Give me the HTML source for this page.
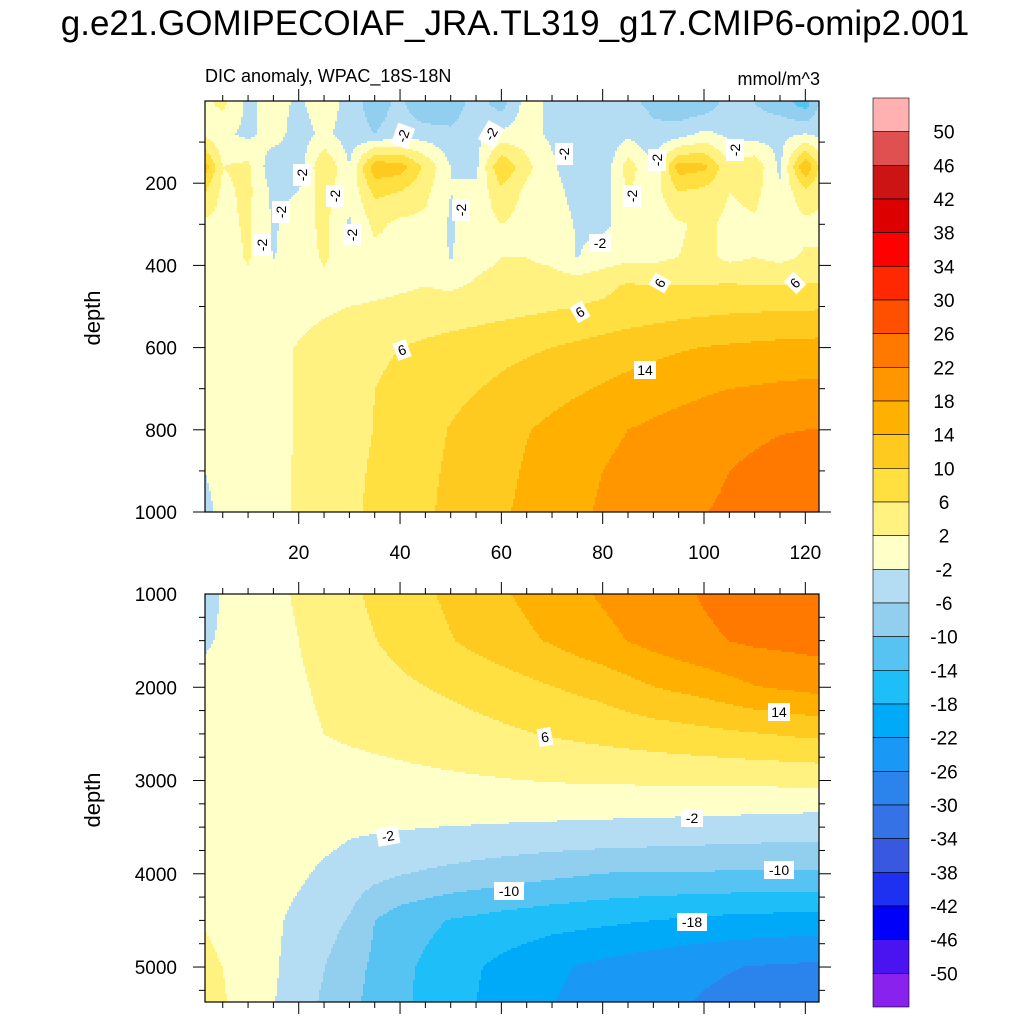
<!DOCTYPE html>
<html><head><meta charset="utf-8">
<style>
body{margin:0;background:#fff;}
svg text{font-family:"Liberation Sans",sans-serif;fill:#000;}
</style></head>
<body>
<svg id="chart" width="1024" height="1024" viewBox="0 0 1024 1024" xmlns="http://www.w3.org/2000/svg">
<rect width="1024" height="1024" fill="#fff"/>
<text x="515" y="35" font-size="35" text-anchor="middle">g.e21.GOMIPECOIAF_JRA.TL319_g17.CMIP6-omip2.001</text>
<text x="205" y="82" font-size="18">DIC anomaly, WPAC_18S-18N</text>
<text x="820" y="85" font-size="18" text-anchor="end">mmol/m^3</text>
<g id="top-fill"></g>
<g id="bot-fill"></g>
<g id="axes"></g>
<g id="cbar"></g>
<text x="0" y="0" font-size="22" text-anchor="middle" transform="translate(100,318) rotate(-90)">depth</text>
<text x="0" y="0" font-size="22" text-anchor="middle" transform="translate(100,800) rotate(-90)">depth</text>
</svg>
<script>
// ---- data ----
const levels = [-50,-46,-42,-38,-34,-30,-26,-22,-18,-14,-10,-6,-2,2,6,10,14,18,22,26,30,34,38,42,46,50];
const levelColors = ['#8a22ee','#4a14f0','#0000fa','#1e30f0','#3858e0','#3472e6','#2a84ec','#1a98f5','#00aaf8','#1ebef8','#56c3f2','#92cfee','#b4dcf2','#ffffc8','#fff280','#ffe040','#ffca20','#ffb000','#ff9600','#ff7800','#ff5000','#ff2800','#ff0000','#dc0000','#cc1414','#e05050','#ffb0b0'];
const topYears = [1.5,5,10,15,20,25,30,35,40,45,50,55,60,65,70,75,80,85,90,95,100,105,110,115,120,122.7];
const topDepths = [5,80,160,220,300,380,450,500,600,700,800,900,1000];
const topD5    = [1,3,-3,0,-3,1,-4,-8,-5,-10,-9,-4,-8,0,-3,-3,-6,-5,-7,-9,-9,-4,-6,-8,-12,-6];
const topD80   = [1,-1,-3,0,-4,-1,-4,-6,-4,-4,-5,-3,-1,0,-3,-4,-5,-3,-5,-4,-1,-3,-4,-3,-2,-3];
const topD160  = [12,2,3,-5,-4,6,-2,13,12,5,-2,-3,10,3,-1,-6,-5,4,-2,12,11,3,5,-3,14,6];
const topD220  = [6,1,3,-3,-2,4,-1,7,6,3,-2,-1,5,1,0,-4,-4,2,0,6,5,2,3,-1,5,3];
const topD300  = [1,1,2.5,-2.5,0,3,-2.5,3,1,1,-2.5,0,2,0.5,1,-2.5,-3,0,-1,1.5,3,1,1.5,0,1,1];
const topD380  = [0,0,2.5,-2.2,0,2.5,0,0.5,1,1,-2.3,1,2,2,1,-2.2,0,1,1,2,3,1,2,1,2.5,2.5];
const topD450  = [0,0,0.5,0,0.5,1,0.5,1,1.5,2,1.5,2.5,3,3.5,4,4.5,5,6.5,6,6.2,6,6.5,6,6,6.5,6.5];
const topD500  = [0,0,0.3,0.6,1,1.5,2,2.4,2.8,3.2,3.6,4,4.5,5,5.5,6,6.6,7.2,7.8,8.3,8.7,9,9.2,9.4,9.5,9.5];
const topD600  = [0,0,0.5,1.2,2.2,3.2,4.2,5.2,6,6.8,7.5,8.2,8.8,9.4,10,10.8,11.6,12.4,13,13.6,14.1,14.5,14.8,15.1,15.3,15.4];
const topD700  = [0,0,0.5,1.2,2.2,3.3,4.6,6,7,8,9,9.8,10.8,11.8,12.7,13.5,14.4,15.2,16,16.7,17.4,18,18.3,18.6,18.8,18.9];
const topD800  = [-1,0,0.3,1,2.3,3.4,4.7,6.1,7.4,8.8,10.2,11.4,12.6,13.8,14.9,16,17.2,18,18.8,19.6,20.3,20.9,21.4,21.8,22,22.1];
const topD900  = [-2,-0.5,0,1,2.4,3.6,5,6.5,7.8,9.3,10.5,11.8,13,14.4,15.6,16.8,18,18.8,19.6,20.4,21.2,22,22.6,23.2,23.8,24];
const topD1000 = [-3,-1,0,1,2.5,3.7,5.2,6.8,8.1,9.5,10.8,12,13.5,14.8,16.1,17.3,18.5,19.3,20.2,21,21.9,22.5,23.2,24,24.7,25];
const topRows = [topD5,topD80,topD160,topD220,topD300,topD380,topD450,topD500,topD600,topD700,topD800,topD900,topD1000];

const botYears = [1.5,5,10,15,20,25,30,35,40,50,60,70,80,90,100,110,122.7];
const botDepths = [1000,1500,2000,2500,3000,3350,3650,4000,4500,5000,5375];
const botD1000 = [-3.5,-1.7,-0.3,1.1,2.5,3.9,5.3,6.7,8.1,10.8,13.5,16.1,18.5,20.5,22.3,23.8,25];
const botD1500 = [-2.5,-1.5,-0.5,0.6,2,3.3,4.6,5.9,7.2,9.8,12.2,14.4,16.9,19.3,21.4,22.7,23.5];
const botD2000 = [-1,0,0.2,0.7,1.6,2.5,3.3,4.2,5.2,6.7,8.1,9.9,11.4,13.9,15.5,17.8,19.2];
const botD2500 = [0,0,0.3,0.8,1.3,2,2.5,2.9,3.3,4.2,5.3,6.3,7.2,8.1,8.9,9.8,10.9];
const botD3000 = [0,0,0,0.1,0.3,0.45,0.6,0.8,1,1.4,1.8,2.2,2.4,2.6,2.8,2.9,3.1];
const botD3350 = [0.2,0.2,0,0,0,-0.1,-0.2,-0.3,-0.4,-0.6,-0.8,-1,-1.2,-1.4,-1.6,-1.8,-2.1];
const botD3650 = [0.5,0.3,0,-0.2,-0.5,-1.2,-2.1,-2.6,-3,-3.6,-4.1,-4.5,-4.8,-5.1,-5.4,-5.7,-6];
const botD4000 = [0.8,0.5,0.2,-0.4,-1.4,-2.7,-3.7,-4.8,-5.8,-7,-8,-9.1,-10.1,-10.3,-10.4,-10.5,-10.6];
const botD4500 = [1.8,1,0,-1.3,-3,-4.4,-6.3,-10,-12,-14.2,-15.5,-16.5,-17.2,-18,-18.8,-19.3,-19.7];
const botD5000 = [2.8,2,0.3,-1.5,-3.7,-5.9,-8.3,-10.8,-13,-16.3,-19,-21.3,-23,-24.3,-25.4,-26.2,-26.8];
const botD5375 = [3,2.3,0.5,-1.8,-4.2,-6.6,-8.9,-11.3,-13.2,-16.6,-19.4,-21.9,-23.6,-25.1,-26.3,-27.4,-28.5];
const botRows = [botD1000,botD1500,botD2000,botD2500,botD3000,botD3350,botD3650,botD4000,botD4500,botD5000,botD5375];

const xTicks = [20,40,60,80,100,120];
const topYTicks = [200,400,600,800,1000];
const botYTicks = [1000,2000,3000,4000,5000];
const cbarLabels = ['50','46','42','38','34','30','26','22','18','14','10','6','2','-2','-6','-10','-14','-18','-22','-26','-30','-34','-38','-42','-46','-50'];

// ---- scales ----
const X0=205, X1=819, YMIN=1.5, YMAX=122.7;
const xS = y => X0 + (y-YMIN)/(YMAX-YMIN)*(X1-X0);
const xInv = p => YMIN + (p-X0)/(X1-X0)*(YMAX-YMIN);
const T0=101, T1=512, B0=594, B1=1002;
const topY = d => T0 + d/1000*(T1-T0);
const topInv = p => (p-T0)/(T1-T0)*1000;
const botY = d => B0 + (d-1000)/4375*(B1-B0);
const botInv = p => 1000 + (p-B0)/(B1-B0)*4375;

const NS="http://www.w3.org/2000/svg";
function mk(tag, attrs, parent){const e=document.createElementNS(NS,tag);for(const k in attrs)e.setAttribute(k,attrs[k]);parent.appendChild(e);return e;}
function idx(arr,v){if(v<=arr[0])return [0,0];if(v>=arr[arr.length-1])return [arr.length-2,1];for(let i=0;i<arr.length-1;i++){if(v<=arr[i+1])return [i,(v-arr[i])/(arr[i+1]-arr[i])];}}
function sample(xs,ds,rows,x,d){const [i,fx]=idx(xs,x);const [j,fy]=idx(ds,d);
 const a=rows[j][i],b=rows[j][i+1],c=rows[j+1][i],e=rows[j+1][i+1];
 return (a*(1-fx)+b*fx)*(1-fy)+(c*(1-fx)+e*fx)*fy;}
function colorIdx(v){let k=0;while(k<levels.length&&v>=levels[k])k++;return k;}

function fill(g, xs, ds, rows, p0, p1, inv, prefix){
 const step=2;
 for(let py=p0;py<p1;py+=step){
  const d=inv(py+step/2);
  let runStart=X0, runC=-1;
  for(let px=X0;px<=X1;px+=step){
   const c = px<X1 ? colorIdx(sample(xs,ds,rows,xInv(px+step/2),d)) : -2;
   if(c!==runC){
    if(runC>=0){
     const r=mk('rect',{x:runStart,y:py,width:Math.min(px,X1)-runStart,height:Math.min(step,p1-py)+0.3,fill:levelColors[runC]},g);
     
     
    }
    runStart=px;runC=c;
   }
  }
 }
}
fill(document.getElementById('top-fill'),topYears,topDepths,topRows,T0,T1,topInv,'top');
fill(document.getElementById('bot-fill'),botYears,botDepths,botRows,B0,B1,botInv,'bottom');

// ---- axes ----
const ax=document.getElementById('axes');
function frame(y0,y1,name){
 const r=mk('rect',{x:X0,y:y0,width:X1-X0,height:y1-y0,fill:'none',stroke:'#000','stroke-width':1.2},ax);
 
 
}
frame(T0,T1,'top-plot-frame');frame(B0,B1,'bottom-plot-frame');
for(let yr=5;yr<=120;yr+=5){
 const major = yr%20===0; const L = major?12:6; const x=xS(yr);
 mk('line',{x1:x,x2:x,y1:T1,y2:T1+L,stroke:'#000','stroke-width':1},ax);
 mk('line',{x1:x,x2:x,y1:T0,y2:T0-L,stroke:'#000','stroke-width':1},ax);
 mk('line',{x1:x,x2:x,y1:B0,y2:B0-L,stroke:'#000','stroke-width':1},ax);
 mk('line',{x1:x,x2:x,y1:B1,y2:B1+L,stroke:'#000','stroke-width':1},ax);
}
xTicks.forEach(t=>{
 const tx=mk('text',{x:xS(t),y:559,'font-size':19,'text-anchor':'middle'},ax);tx.textContent=t;
 
 
});
for(let d=100;d<=1000;d+=100){const L=d%200===0?12:6;const y=topY(d);
 mk('line',{x1:X0,x2:X0-L,y1:y,y2:y,stroke:'#000','stroke-width':1},ax);
 mk('line',{x1:X1,x2:X1+L,y1:y,y2:y,stroke:'#000','stroke-width':1},ax);}
topYTicks.forEach(t=>{
 const tx=mk('text',{x:177,y:topY(t)+7,'font-size':19,'text-anchor':'end'},ax);tx.textContent=t;
 
 
});
for(let d=1250;d<=5250;d+=250){const L=d%1000===0?12:6;const y=botY(d);
 mk('line',{x1:X0,x2:X0-L,y1:y,y2:y,stroke:'#000','stroke-width':1},ax);
 mk('line',{x1:X1,x2:X1+L,y1:y,y2:y,stroke:'#000','stroke-width':1},ax);}
botYTicks.forEach(t=>{
 const tx=mk('text',{x:177,y:botY(t)+7,'font-size':19,'text-anchor':'end'},ax);tx.textContent=t;
 
 
});

// ---- contour labels ----
function clabel(txt,x,y,rot){
 const g=mk('g',{transform:`translate(${x},${y}) rotate(${rot||0})`},ax);
 
 
 const w=txt.length*8+6;
 mk('rect',{x:-w/2,y:-9,width:w,height:18,fill:'#fff'},g);
 const t=mk('text',{x:0,y:5,'font-size':14,'text-anchor':'middle'},g);t.textContent=txt;
}
clabel('6',545,737,-10);clabel('14',779,712,0);clabel('-2',388,836,-10);clabel('-2',692,818,0);
clabel('-10',509,891,0);clabel('-10',779,870,0);clabel('-18',692,922,0);
clabel('6',402,350,-20);clabel('6',580,312,-30);clabel('14',645,370,0);clabel('6',660,283,-60);clabel('6',795,283,-45);
clabel('-2',403,136,-70);clabel('-2',491,134,-60);clabel('-2',564,154,-90);clabel('-2',657,160,-90);clabel('-2',735,150,-90);
clabel('-2',302,175,-90);clabel('-2',281,212,-90);clabel('-2',335,196,-90);clabel('-2',352,235,-90);clabel('-2',262,245,-90);
clabel('-2',461,210,-90);clabel('-2',632,196,-90);clabel('-2',600,243,0);

// ---- colorbar ----
const cb=document.getElementById('cbar');
const CB0=98, CB1=1007, CX=873, CW=36, n=levelColors.length, bh=(CB1-CB0)/n;
for(let i=0;i<n;i++){
 const r=mk('rect',{x:CX,y:CB0+i*bh,width:CW,height:bh,fill:levelColors[n-1-i],stroke:'#000','stroke-width':0.6},cb);
 
 
}
cbarLabels.forEach((l,i)=>{
 const t=mk('text',{x:944,y:CB0+(i+1)*bh+7,'font-size':19,'text-anchor':'middle'},cb);t.textContent=l;
 
 
});
</script>
</body></html>
